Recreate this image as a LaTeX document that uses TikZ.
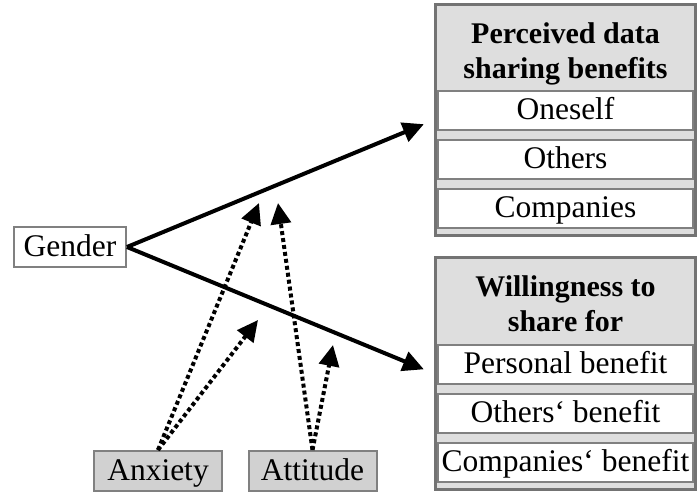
\documentclass[tikz,border=0pt]{standalone}
\usepackage{fontspec}
\setmainfont{Liberation Serif}
\usetikzlibrary{positioning,arrows.meta}

\begin{document}
\begin{tikzpicture}[x=1pt, y=-1pt,
			font=\fontsize{31.5}{36}\selectfont,
			group/.style={rectangle, draw=black!55, line width=3pt, fill=black!13, minimum width=260pt, minimum height=231pt},
			title/.style={font=\fontsize{30}{35}\selectfont\bfseries, align=center, inner sep=0pt},
			item/.style={rectangle, draw=black!50, line width=2pt, fill=white, minimum width=255pt, minimum height=39pt, inner sep=0pt, text height=24pt, text depth=5pt},
			var/.style={rectangle, draw=black!50, line width=2pt, minimum height=40pt, inner sep=0pt, text height=24pt, text depth=5pt},
			effect/.style={-{Triangle[length=21pt,width=20pt]}, line width=4pt, shorten >=11pt},
			moder/.style={-{Triangle[length=21pt,width=20pt]}, line width=4pt, dash pattern=on 4pt off 3pt}
			]
			\useasboundingbox (0,0) rectangle (697,492);
			
			% Vnímané přínosy sdílení dat
			\node[group] (perc) at (565.5,120) {};
			\node[title, below=19pt of perc.north] (perctitle) {Perceived data\\sharing benefits};
			\node[item, below=87pt of perc.north] (oneself) {Oneself};
			\node[item, below=8pt of oneself] (others) {Others};
			\node[item, below=8pt of others] (companies) {Companies};
			
			% Ochota sdílet
			\node[group] (willing) at (565.5,373.5) {};
			\node[title, below=19pt of willing.north] (willtitle) {Willingness to\\share for};
			\node[item, below=87pt of willing.north] (personal) {Personal benefit};
			\node[item, below=8pt of personal] (othersben) {Others‘ benefit};
			\node[item, below=8pt of othersben] (compben) {Companies‘ benefit};
			
			% Proměnné vlevo a dole
			\node[var, fill=white, minimum width=112pt] (gender) at (70,247) {Gender};
			\node[var, fill=black!18, minimum width=128pt] (anxiety) at (158,471) {Anxiety};
			\node[var, fill=black!18, minimum width=128pt] (attitude) at (312.5,471) {Attitude};
			
			% Konce tečkovaných šipek
			\coordinate (anxup) at (259,203);
			\coordinate (anxlow) at (258,320);
			\coordinate (attup) at (278,203);
			\coordinate (attlow) at (333,345);
			
			% Hlavní efekty
			\draw[effect] (gender.east) -- (perc.west);
			\draw[effect] (gender.east) -- (willing.west);
			
			% Moderace
			\draw[moder] (anxiety.north) -- (anxup);
			\draw[moder] (anxiety.north) -- (anxlow);
			\draw[moder] (attitude.north) -- (attup);
			\draw[moder] (attitude.north) -- (attlow);
			
		\end{tikzpicture}
\end{document}
